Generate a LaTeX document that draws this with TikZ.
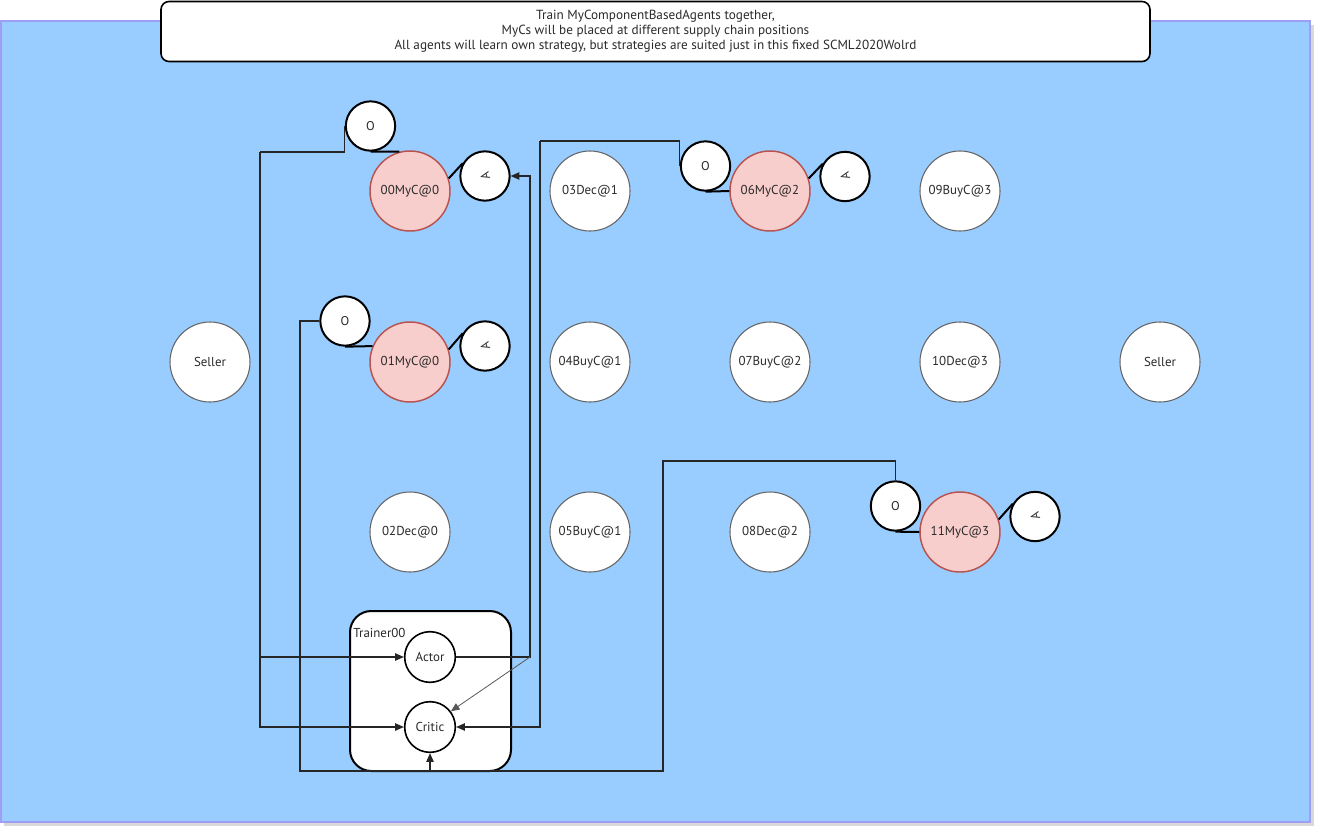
\documentclass[tikz,border=0pt]{standalone}
\usepackage{fontspec}
\setmainfont{PT Sans}
\usetikzlibrary{arrows.meta}
\definecolor{bgblue}{HTML}{99CCFF}
\definecolor{bgborder}{HTML}{9E9EF5}
\definecolor{pinkfill}{HTML}{F8CECC}
\definecolor{pinkdraw}{HTML}{B85450}
\definecolor{grayline}{HTML}{666666}
\definecolor{txt}{HTML}{2A2A2A}
\tikzset{
  big/.style={circle, draw=grayline, line width=0.8pt, fill=white, minimum size=60pt, inner sep=0pt, text=txt, font=\fontsize{9.7}{11}\selectfont},
  myc/.style={big, fill=pinkfill, draw=pinkdraw, line width=1.1pt},
  small/.style={circle, draw=black, line width=1.5pt, fill=white, minimum size=37pt, inner sep=0pt, text=txt, font=\fontsize{9.5}{11}\selectfont},
  inner/.style={circle, draw=black, line width=1.2pt, fill=white, minimum size=38pt, inner sep=0pt, text=txt, font=\fontsize{9.7}{11}\selectfont},
  conn/.style={draw=black!85, line width=0.9pt},
  arr/.style={-{Triangle[length=6.5pt,width=5.5pt]}},
  link/.style={draw=black, line width=1.5pt},
  titlebox/.style={draw=black, line width=1.2pt, fill=white, rounded corners=6pt, minimum width=741.75pt, minimum height=45pt, align=center, text=txt, font=\fontsize{9.9}{11.25}\selectfont},
  trainerbox/.style={draw=black, line width=1.5pt, fill=white, rounded corners=16pt, minimum width=120.75pt, minimum height=120pt}
}
\begin{document}
\begin{tikzpicture}[x=0.75pt,y=-0.75pt]
\useasboundingbox (0,0) rectangle (1322,833);
% background panel
\fill[black, opacity=0.15] (4,25) rectangle (1314,826);
\draw[draw=bgborder, fill=bgblue, line width=0.9pt] (1,21) rectangle (1310,822);
% title
\node[titlebox] (title) at (655.5,31.5) {Train MyComponentBasedAgents together,\\MyCs will be placed at different supply chain positions\\All agents will learn own strategy, but strategies are suited just in this fixed SCML2020Wolrd};
% trainer
\node[trainerbox] (trainer) at (430.5,691) {};
\node[anchor=west, inner sep=0pt, text=txt, font=\fontsize{9.7}{11}\selectfont] (tlabel) at (353,633) {Trainer00};
\node[inner] (actor) at (430,657) {Actor};
\node[inner] (critic) at (430,727) {Critic};
% agents
\node[big] (sellerL) at (210,362) {Seller};
\node[myc] (m00) at (410,191) {00MyC@0};
\node[myc] (m01) at (410,362) {01MyC@0};
\node[big] (d02) at (410,532) {02Dec@0};
\node[big] (d03) at (590,191) {03Dec@1};
\node[big] (b04) at (590,362) {04BuyC@1};
\node[big] (b05) at (590,532) {05BuyC@1};
\node[myc] (m06) at (770,191) {06MyC@2};
\node[big] (b07) at (770,362) {07BuyC@2};
\node[big] (d08) at (770,532) {08Dec@2};
\node[big] (b09) at (960,191) {09BuyC@3};
\node[big] (d10) at (960,362) {10Dec@3};
\node[myc] (m11) at (960,532) {11MyC@3};
\node[big] (sellerR) at (1160,362) {Seller};
% O / A circles
\node[small] (o00) at (370.5,126) {O};
\node[small] (a00) at (485,176) {\rotatebox{105}{A}};
\node[small] (o01) at (345,321) {O};
\node[small] (a01) at (485,346) {\rotatebox{105}{A}};
\node[small] (o06) at (705.5,166) {O};
\node[small] (a06) at (845,176.5) {\rotatebox{105}{A}};
\node[small] (o11) at (895.5,506) {O};
\node[small] (a11) at (1035,516.5) {\rotatebox{105}{A}};
% short links
\draw[link] (o00.south) -- (m00.105);
\draw[link] (m00.18) -- (a00.150);
\draw[link] (o01.south) -- (m01.157);
\draw[link] (m01.18) -- (a01.150);
\draw[link] (o06.south) -- (m06.west);
\draw[link] (m06.18) -- (a06.150);
\draw[link] (o11.south) -- (m11.west);
\draw[link] (m11.18) -- (a11.150);
% bend points
\coordinate (k1) at (260,152);
\coordinate (k2) at (530,657);
\coordinate (k3) at (530,176);
\coordinate (k4) at (540,141);
\coordinate (k5) at (300,321);
\coordinate (k6) at (430,771);
\coordinate (k7) at (663,461);
% connectors
\draw[conn] (o00.west) |- (k1);
\draw[conn, arr] (k1) |- (actor.west);
\draw[conn, arr] (k1) |- (critic.west);
\draw[conn, arr] (actor.east) -- (k2) -- (k3) -- (a00.east);
\draw[draw=black!65, line width=0.6pt, arr] (k2) -- (critic.37);
\draw[conn] (o06.west) |- (k4);
\draw[conn, arr] (k4) |- (critic.east);
\draw[conn] (o01.west) -- (k5) |- (k6);
\draw[conn] (o11.north) |- (k7) |- (k6);
\draw[conn, arr] (k6) -- (critic.south);
\end{tikzpicture}
\end{document}
